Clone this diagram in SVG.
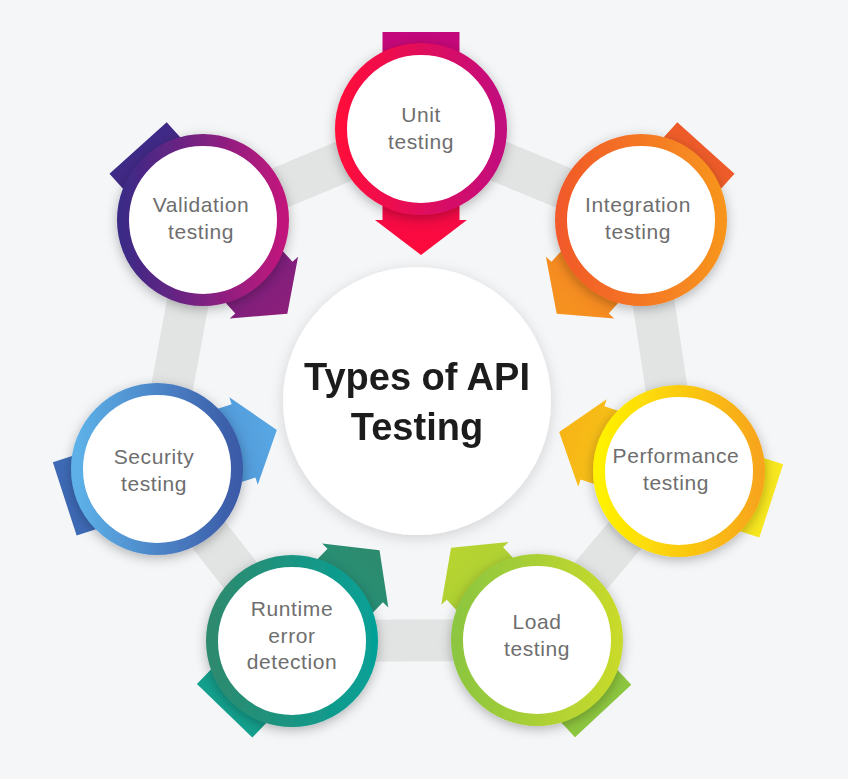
<svg xmlns="http://www.w3.org/2000/svg" width="848" height="779" viewBox="0 0 848 779">
<style>
.band{fill:none;stroke:#e2e4e4;stroke-width:42;stroke-linejoin:round}
.lbl{font-family:"Liberation Sans",Arial,sans-serif;font-size:21px;fill:#6e6e6e;text-anchor:middle;letter-spacing:0.6px}
.title{font-family:"Liberation Sans",Arial,sans-serif;font-size:38px;font-weight:bold;fill:#1c1c1c;text-anchor:middle}
.inner{fill:#ffffff}
</style>
<defs>
<filter id="sh" x="-30%" y="-30%" width="160%" height="160%">
<feDropShadow dx="0" dy="3" stdDeviation="6" flood-color="#000" flood-opacity="0.28"/>
</filter>
<filter id="shc" x="-20%" y="-20%" width="140%" height="140%">
<feDropShadow dx="0" dy="3" stdDeviation="7" flood-color="#000" flood-opacity="0.15"/>
</filter>
<path id="arr" d="M-97,-38.5 L91,-38.5 L91,-46 L126,0 L91,46 L91,38.5 L-97,38.5 Z"/>
<linearGradient id="a1" gradientUnits="userSpaceOnUse" x1="-97" y1="0" x2="126" y2="0"><stop offset="0" stop-color="#c2087d"/><stop offset="1" stop-color="#ff0a3a"/></linearGradient>
<linearGradient id="a2" gradientUnits="userSpaceOnUse" x1="-97" y1="0" x2="126" y2="0"><stop offset="0" stop-color="#3d2a87"/><stop offset="1" stop-color="#8e1d7a"/></linearGradient>
<linearGradient id="a3" gradientUnits="userSpaceOnUse" x1="-97" y1="0" x2="126" y2="0"><stop offset="0" stop-color="#ee5a2a"/><stop offset="1" stop-color="#f6941f"/></linearGradient>
<linearGradient id="a4" gradientUnits="userSpaceOnUse" x1="-97" y1="0" x2="126" y2="0"><stop offset="0" stop-color="#3d68b4"/><stop offset="1" stop-color="#58a8e4"/></linearGradient>
<linearGradient id="a5" gradientUnits="userSpaceOnUse" x1="-97" y1="0" x2="126" y2="0"><stop offset="0" stop-color="#f7e81f"/><stop offset="1" stop-color="#f7b416"/></linearGradient>
<linearGradient id="a6" gradientUnits="userSpaceOnUse" x1="-97" y1="0" x2="126" y2="0"><stop offset="0" stop-color="#13a08e"/><stop offset="1" stop-color="#2d8a6d"/></linearGradient>
<linearGradient id="a7" gradientUnits="userSpaceOnUse" x1="-97" y1="0" x2="126" y2="0"><stop offset="0" stop-color="#8cc63f"/><stop offset="1" stop-color="#b8d430"/></linearGradient>
<linearGradient id="r1" x1="0" y1="0" x2="1" y2="0"><stop offset="0" stop-color="#ff0a3a"/><stop offset="1" stop-color="#c2087d"/></linearGradient>
<linearGradient id="r2" x1="0" y1="0" x2="1" y2="0"><stop offset="0" stop-color="#3b2a86"/><stop offset="1" stop-color="#c0187c"/></linearGradient>
<linearGradient id="r3" x1="0" y1="0" x2="1" y2="0"><stop offset="0" stop-color="#f15a29"/><stop offset="1" stop-color="#f7941e"/></linearGradient>
<linearGradient id="r4" x1="0" y1="0" x2="1" y2="0"><stop offset="0" stop-color="#5db1e8"/><stop offset="1" stop-color="#3b5aa7"/></linearGradient>
<linearGradient id="r5" x1="0" y1="0" x2="1" y2="0"><stop offset="0" stop-color="#fff200"/><stop offset="1" stop-color="#f7a51c"/></linearGradient>
<linearGradient id="r6" x1="0" y1="0" x2="1" y2="0"><stop offset="0" stop-color="#2e8a6e"/><stop offset="1" stop-color="#06a096"/></linearGradient>
<linearGradient id="r7" x1="0" y1="0" x2="1" y2="0"><stop offset="0" stop-color="#8dc63f"/><stop offset="1" stop-color="#c8da2b"/></linearGradient>
</defs>
<rect x="0" y="0" width="848" height="779" fill="#f5f6f8"/>
<g id="connectors">
<polygon class="band" points="421,129 641,220 679,471 537,640 292,641 157,469 203,220"/>
</g>
<g id="center" filter="url(#shc)">
<circle cx="417" cy="401" r="134" class="inner"/>
<text class="title" x="417" y="390">Types of API</text>
<text class="title" x="417" y="440">Testing</text>
</g>
<g id="unit">
<use href="#arr" fill="url(#a1)" transform="translate(421,129) rotate(90)"/>
<circle cx="421" cy="129" r="80" class="inner" stroke="url(#r1)" stroke-width="12" filter="url(#sh)"/>
<text class="lbl" x="421" y="122">Unit</text>
<text class="lbl" x="421" y="149">testing</text>
</g>
<g id="integration">
<use href="#arr" fill="url(#a3)" transform="translate(641,220) rotate(132)"/>
<circle cx="641" cy="220" r="80" class="inner" stroke="url(#r3)" stroke-width="12" filter="url(#sh)"/>
<text class="lbl" x="638" y="212">Integration</text>
<text class="lbl" x="638" y="239">testing</text>
</g>
<g id="performance">
<use href="#arr" fill="url(#a5)" transform="translate(679,471) rotate(198)"/>
<circle cx="679" cy="471" r="80" class="inner" stroke="url(#r5)" stroke-width="12" filter="url(#sh)"/>
<text class="lbl" x="676" y="463">Performance</text>
<text class="lbl" x="676" y="490">testing</text>
</g>
<g id="load">
<use href="#arr" fill="url(#a7)" transform="translate(537,640) rotate(-133)"/>
<circle cx="537" cy="640" r="80" class="inner" stroke="url(#r7)" stroke-width="12" filter="url(#sh)"/>
<text class="lbl" x="537" y="629">Load</text>
<text class="lbl" x="537" y="656">testing</text>
</g>
<g id="runtime">
<use href="#arr" fill="url(#a6)" transform="translate(292,641) rotate(-46)"/>
<circle cx="292" cy="641" r="80" class="inner" stroke="url(#r6)" stroke-width="12" filter="url(#sh)"/>
<text class="lbl" x="292" y="616">Runtime</text>
<text class="lbl" x="292" y="643">error</text>
<text class="lbl" x="292" y="669">detection</text>
</g>
<g id="security">
<use href="#arr" fill="url(#a4)" transform="translate(157,469) rotate(-18)"/>
<circle cx="157" cy="469" r="80" class="inner" stroke="url(#r4)" stroke-width="12" filter="url(#sh)"/>
<text class="lbl" x="154" y="464">Security</text>
<text class="lbl" x="154" y="491">testing</text>
</g>
<g id="validation">
<use href="#arr" fill="url(#a2)" transform="translate(203,220) rotate(48)"/>
<circle cx="203" cy="220" r="80" class="inner" stroke="url(#r2)" stroke-width="12" filter="url(#sh)"/>
<text class="lbl" x="201" y="212">Validation</text>
<text class="lbl" x="201" y="239">testing</text>
</g>
</svg>
